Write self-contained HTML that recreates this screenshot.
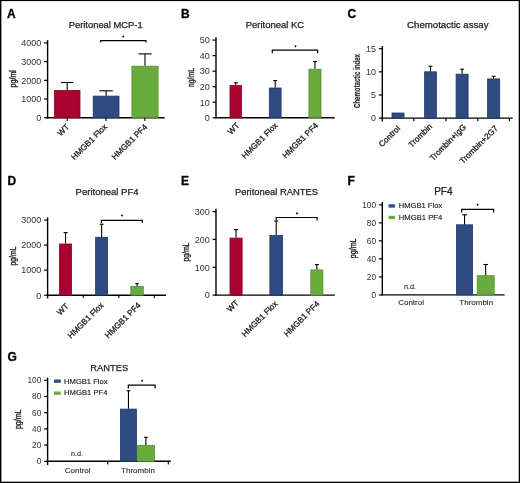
<!DOCTYPE html>
<html><head><meta charset="utf-8"><style>
html,body{margin:0;padding:0;background:#fff;}
body{width:520px;height:483px;overflow:hidden;}
svg{display:block;font-family:"Liberation Sans", sans-serif;will-change:transform;}
</style></head><body>
<svg width="520" height="483" viewBox="0 0 520 483">
<rect width="520" height="483" fill="#fff"/>
<rect x="0" y="0" width="520" height="1.1" fill="#000"/>
<rect x="0" y="0" width="1.4" height="483" fill="#000"/>
<rect x="518.7" y="0" width="1.3" height="483" fill="#000"/>
<rect x="0" y="481.7" width="520" height="1.3" fill="#000"/>
<text x="7" y="17.6" font-size="12" text-anchor="start" fill="#000" stroke="#000" stroke-width="0.3" font-weight="bold" >A</text>
<text x="105.7" y="27.9" font-size="9.5" text-anchor="middle" fill="#222" stroke="#222" stroke-width="0.25" textLength="74" lengthAdjust="spacingAndGlyphs" >Peritoneal MCP-1</text>
<text x="15.9" y="78.8" font-size="8.4" text-anchor="middle" fill="#222" stroke="#222" stroke-width="0.35" textLength="17.5" lengthAdjust="spacingAndGlyphs" transform="rotate(-90 15.9 78.8)" >pg/ml</text>
<line x1="47.6" y1="40.08" x2="47.6" y2="118.5" stroke="#000" stroke-width="1.4"/>
<line x1="44.1" y1="117.8" x2="47.6" y2="117.8" stroke="#000" stroke-width="1.2"/>
<text x="41.3" y="121.1" font-size="9.0" text-anchor="end" fill="#333" >0</text>
<line x1="44.1" y1="99.07" x2="47.6" y2="99.07" stroke="#000" stroke-width="1.2"/>
<text x="41.3" y="102.37" font-size="9.0" text-anchor="end" fill="#333" >1000</text>
<line x1="44.1" y1="80.34" x2="47.6" y2="80.34" stroke="#000" stroke-width="1.2"/>
<text x="41.3" y="83.64" font-size="9.0" text-anchor="end" fill="#333" >2000</text>
<line x1="44.1" y1="61.61" x2="47.6" y2="61.61" stroke="#000" stroke-width="1.2"/>
<text x="41.3" y="64.91" font-size="9.0" text-anchor="end" fill="#333" >3000</text>
<line x1="44.1" y1="42.88" x2="47.6" y2="42.88" stroke="#000" stroke-width="1.2"/>
<text x="41.3" y="46.18" font-size="9.0" text-anchor="end" fill="#333" >4000</text>
<line x1="46.9" y1="117.8" x2="164.6" y2="117.8" stroke="#000" stroke-width="1.4"/>
<rect x="54.40" y="90.40" width="25.60" height="27.40" fill="#aa0330" stroke="#8a0226" stroke-width="0.8"/>
<line x1="67.2" y1="90" x2="67.2" y2="82.5" stroke="#000" stroke-width="1.1"/>
<line x1="60.95" y1="82.5" x2="73.45" y2="82.5" stroke="#000" stroke-width="1.1"/>
<rect x="93.20" y="96.10" width="25.80" height="21.70" fill="#2e4c80" stroke="#203866" stroke-width="0.8"/>
<line x1="106.1" y1="95.7" x2="106.1" y2="90.8" stroke="#000" stroke-width="1.1"/>
<line x1="99.35" y1="90.8" x2="112.85" y2="90.8" stroke="#000" stroke-width="1.1"/>
<rect x="131.90" y="66.20" width="26.20" height="51.60" fill="#69ab3e" stroke="#568f33" stroke-width="0.8"/>
<line x1="145" y1="65.8" x2="145" y2="53.9" stroke="#000" stroke-width="1.1"/>
<line x1="138.4" y1="53.9" x2="151.6" y2="53.9" stroke="#000" stroke-width="1.1"/>
<line x1="67.2" y1="117.8" x2="67.2" y2="121" stroke="#000" stroke-width="1.1"/>
<line x1="106" y1="117.8" x2="106" y2="121" stroke="#000" stroke-width="1.1"/>
<line x1="144.9" y1="117.8" x2="144.9" y2="121" stroke="#000" stroke-width="1.1"/>
<path d="M100.6 42.4 L100.6 40.6 L146 40.6 L146 42.4" fill="none" stroke="#000" stroke-width="1.2"/>
<path d="M123.3 35.2 L124.5 36.5 L123.3 37.8 L122.1 36.5 Z" fill="#111"/>
<text x="69.8" y="127.4" font-size="8.2" text-anchor="end" fill="#222" stroke="#222" stroke-width="0.3" transform="rotate(-45 69.8 127.4)" >WT</text>
<text x="107.7" y="127.4" font-size="8.2" text-anchor="end" fill="#222" stroke="#222" stroke-width="0.3" transform="rotate(-45 107.7 127.4)" >HMGB1 Flox</text>
<text x="147.9" y="127.4" font-size="8.2" text-anchor="end" fill="#222" stroke="#222" stroke-width="0.3" transform="rotate(-45 147.9 127.4)" >HMGB1 PF4</text>
<text x="181" y="17.6" font-size="12" text-anchor="start" fill="#000" stroke="#000" stroke-width="0.3" font-weight="bold" >B</text>
<text x="274.9" y="27.9" font-size="9.5" text-anchor="middle" fill="#222" stroke="#222" stroke-width="0.25" textLength="58.5" lengthAdjust="spacingAndGlyphs" >Peritoneal KC</text>
<text x="194.2" y="77.5" font-size="8.4" text-anchor="middle" fill="#222" stroke="#222" stroke-width="0.35" textLength="19" lengthAdjust="spacingAndGlyphs" transform="rotate(-90 194.2 77.5)" >ng/mL</text>
<line x1="216" y1="37.3" x2="216" y2="118.5" stroke="#000" stroke-width="1.4"/>
<line x1="212.5" y1="117.8" x2="216" y2="117.8" stroke="#000" stroke-width="1.2"/>
<text x="209.7" y="121.1" font-size="9.0" text-anchor="end" fill="#333" >0</text>
<line x1="212.5" y1="102.26" x2="216" y2="102.26" stroke="#000" stroke-width="1.2"/>
<text x="209.7" y="105.56" font-size="9.0" text-anchor="end" fill="#333" >10</text>
<line x1="212.5" y1="86.72" x2="216" y2="86.72" stroke="#000" stroke-width="1.2"/>
<text x="209.7" y="90.02" font-size="9.0" text-anchor="end" fill="#333" >20</text>
<line x1="212.5" y1="71.18" x2="216" y2="71.18" stroke="#000" stroke-width="1.2"/>
<text x="209.7" y="74.48" font-size="9.0" text-anchor="end" fill="#333" >30</text>
<line x1="212.5" y1="55.64" x2="216" y2="55.64" stroke="#000" stroke-width="1.2"/>
<text x="209.7" y="58.94" font-size="9.0" text-anchor="end" fill="#333" >40</text>
<line x1="212.5" y1="40.1" x2="216" y2="40.1" stroke="#000" stroke-width="1.2"/>
<text x="209.7" y="43.4" font-size="9.0" text-anchor="end" fill="#333" >50</text>
<line x1="215.3" y1="117.8" x2="334.6" y2="117.8" stroke="#000" stroke-width="1.4"/>
<rect x="230.00" y="85.60" width="11.60" height="32.20" fill="#aa0330" stroke="#8a0226" stroke-width="0.8"/>
<line x1="235.8" y1="85.2" x2="235.8" y2="82.8" stroke="#000" stroke-width="1.1"/>
<line x1="233.8" y1="82.8" x2="237.8" y2="82.8" stroke="#000" stroke-width="1.1"/>
<rect x="269.30" y="88.00" width="11.80" height="29.80" fill="#2e4c80" stroke="#203866" stroke-width="0.8"/>
<line x1="275.2" y1="87.6" x2="275.2" y2="80.6" stroke="#000" stroke-width="1.1"/>
<line x1="273.2" y1="80.6" x2="277.2" y2="80.6" stroke="#000" stroke-width="1.1"/>
<rect x="308.90" y="69.20" width="12.10" height="48.60" fill="#69ab3e" stroke="#568f33" stroke-width="0.8"/>
<line x1="314.95" y1="68.8" x2="314.95" y2="61.5" stroke="#000" stroke-width="1.1"/>
<line x1="312.95" y1="61.5" x2="316.95" y2="61.5" stroke="#000" stroke-width="1.1"/>
<path d="M272.3 53.2 L272.3 50.2 L317.6 50.2 L317.6 53.2" fill="none" stroke="#000" stroke-width="1.2"/>
<path d="M295.5 45.00000000000001 L296.7 46.300000000000004 L295.5 47.6 L294.3 46.300000000000004 Z" fill="#111"/>
<text x="240" y="126" font-size="8.2" text-anchor="end" fill="#222" stroke="#222" stroke-width="0.3" transform="rotate(-45 240 126)" >WT</text>
<text x="278.2" y="126" font-size="8.2" text-anchor="end" fill="#222" stroke="#222" stroke-width="0.3" transform="rotate(-45 278.2 126)" >HMGB1 Flox</text>
<text x="318.7" y="126" font-size="8.2" text-anchor="end" fill="#222" stroke="#222" stroke-width="0.3" transform="rotate(-45 318.7 126)" >HMGB1 PF4</text>
<text x="347.5" y="17.6" font-size="12" text-anchor="start" fill="#000" stroke="#000" stroke-width="0.3" font-weight="bold" >C</text>
<text x="447.8" y="27.9" font-size="9.5" text-anchor="middle" fill="#222" stroke="#222" stroke-width="0.25" textLength="81.5" lengthAdjust="spacingAndGlyphs" >Chemotactic assay</text>
<text x="360.4" y="81" font-size="9" text-anchor="middle" fill="#222" stroke="#222" stroke-width="0.15" font-weight="bold" textLength="54" lengthAdjust="spacingAndGlyphs" transform="rotate(-90 360.4 81)" >Chemotactic index</text>
<line x1="382.3" y1="45.91" x2="382.3" y2="121.5" stroke="#000" stroke-width="1.4"/>
<line x1="378.8" y1="118.1" x2="382.3" y2="118.1" stroke="#000" stroke-width="1.2"/>
<text x="376" y="121.4" font-size="9.0" text-anchor="end" fill="#333" >0</text>
<line x1="378.8" y1="94.97" x2="382.3" y2="94.97" stroke="#000" stroke-width="1.2"/>
<text x="376" y="98.27" font-size="9.0" text-anchor="end" fill="#333" >5</text>
<line x1="378.8" y1="71.84" x2="382.3" y2="71.84" stroke="#000" stroke-width="1.2"/>
<text x="376" y="75.14" font-size="9.0" text-anchor="end" fill="#333" >10</text>
<line x1="378.8" y1="48.71" x2="382.3" y2="48.71" stroke="#000" stroke-width="1.2"/>
<text x="376" y="52.01" font-size="9.0" text-anchor="end" fill="#333" >15</text>
<line x1="381.6" y1="118.1" x2="512.8" y2="118.1" stroke="#000" stroke-width="1.4"/>
<rect x="392.00" y="113.00" width="12.00" height="5.10" fill="#2e4c80" stroke="#203866" stroke-width="0.8"/>
<rect x="424.60" y="71.80" width="11.80" height="46.30" fill="#2e4c80" stroke="#203866" stroke-width="0.8"/>
<line x1="430.5" y1="71.4" x2="430.5" y2="66.2" stroke="#000" stroke-width="1.1"/>
<line x1="428.5" y1="66.2" x2="432.5" y2="66.2" stroke="#000" stroke-width="1.1"/>
<rect x="456.10" y="74.20" width="12.00" height="43.90" fill="#2e4c80" stroke="#203866" stroke-width="0.8"/>
<line x1="462.1" y1="73.8" x2="462.1" y2="69.2" stroke="#000" stroke-width="1.1"/>
<line x1="460.1" y1="69.2" x2="464.1" y2="69.2" stroke="#000" stroke-width="1.1"/>
<rect x="487.60" y="78.90" width="12.10" height="39.20" fill="#2e4c80" stroke="#203866" stroke-width="0.8"/>
<line x1="493.65" y1="78.5" x2="493.65" y2="76.3" stroke="#000" stroke-width="1.1"/>
<line x1="491.65" y1="76.3" x2="495.65" y2="76.3" stroke="#000" stroke-width="1.1"/>
<line x1="413.8" y1="118.1" x2="413.8" y2="121.2" stroke="#000" stroke-width="1.2"/>
<line x1="445.9" y1="118.1" x2="445.9" y2="121.2" stroke="#000" stroke-width="1.2"/>
<line x1="477.8" y1="118.1" x2="477.8" y2="121.2" stroke="#000" stroke-width="1.2"/>
<line x1="509.4" y1="118.1" x2="509.4" y2="121.2" stroke="#000" stroke-width="1.2"/>
<text x="400.7" y="128.9" font-size="8.2" text-anchor="end" fill="#222" stroke="#222" stroke-width="0.3" transform="rotate(-45 400.7 128.9)" >Control</text>
<text x="432.7" y="126.9" font-size="8.2" text-anchor="end" fill="#222" stroke="#222" stroke-width="0.3" transform="rotate(-45 432.7 126.9)" >Trombin</text>
<text x="466.7" y="127.6" font-size="8.2" text-anchor="end" fill="#222" stroke="#222" stroke-width="0.3" transform="rotate(-45 466.7 127.6)" >Trombin+IgG</text>
<text x="498.4" y="128.9" font-size="8.2" text-anchor="end" fill="#222" stroke="#222" stroke-width="0.3" transform="rotate(-45 498.4 128.9)" >Trombin+2G7</text>
<text x="7.5" y="184.8" font-size="12" text-anchor="start" fill="#000" stroke="#000" stroke-width="0.3" font-weight="bold" >D</text>
<text x="107.1" y="195.2" font-size="9.5" text-anchor="middle" fill="#222" stroke="#222" stroke-width="0.25" textLength="63" lengthAdjust="spacingAndGlyphs" >Peritoneal PF4</text>
<text x="15.9" y="256" font-size="8.4" text-anchor="middle" fill="#222" stroke="#222" stroke-width="0.35" textLength="18.9" lengthAdjust="spacingAndGlyphs" transform="rotate(-90 15.9 256)" >pg/mL</text>
<line x1="47.6" y1="217.31" x2="47.6" y2="298.4" stroke="#000" stroke-width="1.4"/>
<line x1="44.1" y1="295.2" x2="47.6" y2="295.2" stroke="#000" stroke-width="1.2"/>
<text x="41.3" y="298.5" font-size="9.0" text-anchor="end" fill="#333" >0</text>
<line x1="44.1" y1="270.17" x2="47.6" y2="270.17" stroke="#000" stroke-width="1.2"/>
<text x="41.3" y="273.47" font-size="9.0" text-anchor="end" fill="#333" >1000</text>
<line x1="44.1" y1="245.14" x2="47.6" y2="245.14" stroke="#000" stroke-width="1.2"/>
<text x="41.3" y="248.44" font-size="9.0" text-anchor="end" fill="#333" >2000</text>
<line x1="44.1" y1="220.11" x2="47.6" y2="220.11" stroke="#000" stroke-width="1.2"/>
<text x="41.3" y="223.41" font-size="9.0" text-anchor="end" fill="#333" >3000</text>
<line x1="46.9" y1="295.2" x2="165.9" y2="295.2" stroke="#000" stroke-width="1.4"/>
<rect x="59.50" y="244.00" width="12.10" height="51.20" fill="#aa0330" stroke="#8a0226" stroke-width="0.8"/>
<line x1="65.55" y1="243.6" x2="65.55" y2="232.6" stroke="#000" stroke-width="1.1"/>
<line x1="63.55" y1="232.6" x2="67.55" y2="232.6" stroke="#000" stroke-width="1.1"/>
<rect x="95.60" y="237.30" width="12.00" height="57.90" fill="#2e4c80" stroke="#203866" stroke-width="0.8"/>
<line x1="101.6" y1="236.9" x2="101.6" y2="224.2" stroke="#000" stroke-width="1.1"/>
<line x1="99.6" y1="224.2" x2="103.6" y2="224.2" stroke="#000" stroke-width="1.1"/>
<rect x="130.80" y="286.50" width="12.50" height="8.70" fill="#69ab3e" stroke="#568f33" stroke-width="0.8"/>
<line x1="137.05" y1="286.1" x2="137.05" y2="283.6" stroke="#000" stroke-width="1.1"/>
<line x1="135.3" y1="283.6" x2="138.8" y2="283.6" stroke="#000" stroke-width="1.1"/>
<line x1="83.3" y1="295.2" x2="83.3" y2="297.9" stroke="#000" stroke-width="1.1"/>
<line x1="118.9" y1="295.2" x2="118.9" y2="297.9" stroke="#000" stroke-width="1.1"/>
<line x1="154.4" y1="295.2" x2="154.4" y2="297.9" stroke="#000" stroke-width="1.1"/>
<path d="M101.4 223.10000000000002 L101.4 220.3 L142.3 220.3 L142.3 223.10000000000002" fill="none" stroke="#000" stroke-width="1.2"/>
<path d="M122 214.2 L123.2 215.5 L122 216.8 L120.8 215.5 Z" fill="#111"/>
<text x="69.2" y="306.8" font-size="8.2" text-anchor="end" fill="#222" stroke="#222" stroke-width="0.3" transform="rotate(-45 69.2 306.8)" >WT</text>
<text x="104.2" y="305.8" font-size="8.2" text-anchor="end" fill="#222" stroke="#222" stroke-width="0.3" transform="rotate(-45 104.2 305.8)" >HMGB1 Flox</text>
<text x="141.2" y="305.8" font-size="8.2" text-anchor="end" fill="#222" stroke="#222" stroke-width="0.3" transform="rotate(-45 141.2 305.8)" >HMGB1 PF4</text>
<text x="181" y="184.8" font-size="12" text-anchor="start" fill="#000" stroke="#000" stroke-width="0.3" font-weight="bold" >E</text>
<text x="276.5" y="195.2" font-size="9.5" text-anchor="middle" fill="#222" stroke="#222" stroke-width="0.25" textLength="83.2" lengthAdjust="spacingAndGlyphs" >Peritoneal RANTES</text>
<text x="189.4" y="252.1" font-size="8.4" text-anchor="middle" fill="#222" stroke="#222" stroke-width="0.35" textLength="19" lengthAdjust="spacingAndGlyphs" transform="rotate(-90 189.4 252.1)" >pg/mL</text>
<line x1="216" y1="208.81" x2="216" y2="295.8" stroke="#000" stroke-width="1.4"/>
<line x1="212.5" y1="295.1" x2="216" y2="295.1" stroke="#000" stroke-width="1.2"/>
<text x="209.7" y="298.4" font-size="9.0" text-anchor="end" fill="#333" >0</text>
<line x1="212.5" y1="267.27" x2="216" y2="267.27" stroke="#000" stroke-width="1.2"/>
<text x="209.7" y="270.57" font-size="9.0" text-anchor="end" fill="#333" >100</text>
<line x1="212.5" y1="239.44" x2="216" y2="239.44" stroke="#000" stroke-width="1.2"/>
<text x="209.7" y="242.74" font-size="9.0" text-anchor="end" fill="#333" >200</text>
<line x1="212.5" y1="211.61" x2="216" y2="211.61" stroke="#000" stroke-width="1.2"/>
<text x="209.7" y="214.91" font-size="9.0" text-anchor="end" fill="#333" >300</text>
<line x1="215.3" y1="295.1" x2="334.8" y2="295.1" stroke="#000" stroke-width="1.4"/>
<rect x="230.00" y="238.10" width="12.10" height="57.00" fill="#aa0330" stroke="#8a0226" stroke-width="0.8"/>
<line x1="236.05" y1="237.7" x2="236.05" y2="229.6" stroke="#000" stroke-width="1.1"/>
<line x1="234.05" y1="229.6" x2="238.05" y2="229.6" stroke="#000" stroke-width="1.1"/>
<rect x="269.90" y="235.40" width="12.60" height="59.70" fill="#2e4c80" stroke="#203866" stroke-width="0.8"/>
<line x1="276.2" y1="235" x2="276.2" y2="221" stroke="#000" stroke-width="1.1"/>
<line x1="274.2" y1="221" x2="278.2" y2="221" stroke="#000" stroke-width="1.1"/>
<rect x="310.80" y="269.90" width="12.10" height="25.20" fill="#69ab3e" stroke="#568f33" stroke-width="0.8"/>
<line x1="316.85" y1="269.5" x2="316.85" y2="264.6" stroke="#000" stroke-width="1.1"/>
<line x1="314.85" y1="264.6" x2="318.85" y2="264.6" stroke="#000" stroke-width="1.1"/>
<path d="M276.2 220.2 L276.2 217.5 L317.1 217.5 L317.1 220.2" fill="none" stroke="#000" stroke-width="1.2"/>
<path d="M297 212.09999999999997 L298.2 213.39999999999998 L297 214.7 L295.8 213.39999999999998 Z" fill="#111"/>
<text x="239.2" y="303.4" font-size="8.2" text-anchor="end" fill="#222" stroke="#222" stroke-width="0.3" transform="rotate(-45 239.2 303.4)" >WT</text>
<text x="278.2" y="304.4" font-size="8.2" text-anchor="end" fill="#222" stroke="#222" stroke-width="0.3" transform="rotate(-45 278.2 304.4)" >HMGB1 Flox</text>
<text x="320" y="304.4" font-size="8.2" text-anchor="end" fill="#222" stroke="#222" stroke-width="0.3" transform="rotate(-45 320 304.4)" >HMGB1 PF4</text>
<text x="347.5" y="184.8" font-size="12" text-anchor="start" fill="#000" stroke="#000" stroke-width="0.3" font-weight="bold" >F</text>
<text x="443.3" y="195.4" font-size="10" text-anchor="middle" fill="#222" stroke="#222" stroke-width="0.25" >PF4</text>
<text x="355.9" y="248.3" font-size="8.4" text-anchor="middle" fill="#222" stroke="#222" stroke-width="0.35" textLength="19.7" lengthAdjust="spacingAndGlyphs" transform="rotate(-90 355.9 248.3)" >pg/mL</text>
<line x1="382.3" y1="202.1" x2="382.3" y2="295.6" stroke="#000" stroke-width="1.4"/>
<line x1="378.8" y1="294.9" x2="382.3" y2="294.9" stroke="#000" stroke-width="1.2"/>
<text x="376" y="297.8" font-size="8.3" text-anchor="end" fill="#333" >0</text>
<line x1="378.8" y1="276.9" x2="382.3" y2="276.9" stroke="#000" stroke-width="1.2"/>
<text x="376" y="279.8" font-size="8.3" text-anchor="end" fill="#333" >20</text>
<line x1="378.8" y1="258.9" x2="382.3" y2="258.9" stroke="#000" stroke-width="1.2"/>
<text x="376" y="261.8" font-size="8.3" text-anchor="end" fill="#333" >40</text>
<line x1="378.8" y1="240.9" x2="382.3" y2="240.9" stroke="#000" stroke-width="1.2"/>
<text x="376" y="243.8" font-size="8.3" text-anchor="end" fill="#333" >60</text>
<line x1="378.8" y1="222.9" x2="382.3" y2="222.9" stroke="#000" stroke-width="1.2"/>
<text x="376" y="225.8" font-size="8.3" text-anchor="end" fill="#333" >80</text>
<line x1="378.8" y1="204.9" x2="382.3" y2="204.9" stroke="#000" stroke-width="1.2"/>
<text x="376" y="207.8" font-size="8.3" text-anchor="end" fill="#333" >100</text>
<line x1="381.6" y1="294.9" x2="504.6" y2="294.9" stroke="#000" stroke-width="1.4"/>
<rect x="388.6" y="204.3" width="6.5" height="3.3" fill="#2e4c80"/>
<rect x="388.6" y="215.8" width="6.5" height="3.3" fill="#69ab3e"/>
<text x="398.8" y="207.9" font-size="7.3" text-anchor="start" fill="#222" stroke="#222" stroke-width="0.15" textLength="43.4" lengthAdjust="spacingAndGlyphs" >HMGB1 Flox</text>
<text x="398.8" y="219.6" font-size="7.3" text-anchor="start" fill="#222" stroke="#222" stroke-width="0.15" textLength="43.4" lengthAdjust="spacingAndGlyphs" >HMGB1 PF4</text>
<rect x="456.50" y="224.80" width="16.10" height="70.10" fill="#2e4c80" stroke="#203866" stroke-width="0.8"/>
<line x1="464.55" y1="224.4" x2="464.55" y2="214.8" stroke="#000" stroke-width="1.1"/>
<line x1="462.2" y1="214.8" x2="466.9" y2="214.8" stroke="#000" stroke-width="1.1"/>
<rect x="477.20" y="275.70" width="17.00" height="19.20" fill="#69ab3e" stroke="#568f33" stroke-width="0.8"/>
<line x1="485.7" y1="275.3" x2="485.7" y2="264.5" stroke="#000" stroke-width="1.1"/>
<line x1="483.4" y1="264.5" x2="488" y2="264.5" stroke="#000" stroke-width="1.1"/>
<path d="M461.7 212.60000000000002 L461.7 209.3 L493.6 209.3 L493.6 212.60000000000002" fill="none" stroke="#000" stroke-width="1.2"/>
<path d="M477.6 203.49999999999997 L478.8 204.79999999999998 L477.6 206.1 L476.40000000000003 204.79999999999998 Z" fill="#111"/>
<text x="410.1" y="289.3" font-size="7.2" text-anchor="middle" fill="#222" stroke="#222" stroke-width="0.1" >n.d.</text>
<text x="411.1" y="304.8" font-size="8.0" text-anchor="middle" fill="#222" stroke="#222" stroke-width="0.1" >Control</text>
<text x="476.2" y="304.8" font-size="8.0" text-anchor="middle" fill="#222" stroke="#222" stroke-width="0.1" >Thrombin</text>
<text x="7.5" y="360.9" font-size="12" text-anchor="start" fill="#000" stroke="#000" stroke-width="0.3" font-weight="bold" >G</text>
<text x="109.2" y="371" font-size="9.9" text-anchor="middle" fill="#222" stroke="#222" stroke-width="0.25" textLength="38" lengthAdjust="spacingAndGlyphs" >RANTES</text>
<text x="20.9" y="419.3" font-size="8.4" text-anchor="middle" fill="#222" stroke="#222" stroke-width="0.35" textLength="19.6" lengthAdjust="spacingAndGlyphs" transform="rotate(-90 20.9 419.3)" >pg/mL</text>
<line x1="47.6" y1="377.5" x2="47.6" y2="465" stroke="#000" stroke-width="1.4"/>
<line x1="44.1" y1="461.3" x2="47.6" y2="461.3" stroke="#000" stroke-width="1.2"/>
<text x="41.3" y="464.2" font-size="8.3" text-anchor="end" fill="#333" >0</text>
<line x1="44.1" y1="445.1" x2="47.6" y2="445.1" stroke="#000" stroke-width="1.2"/>
<text x="41.3" y="448" font-size="8.3" text-anchor="end" fill="#333" >20</text>
<line x1="44.1" y1="428.9" x2="47.6" y2="428.9" stroke="#000" stroke-width="1.2"/>
<text x="41.3" y="431.8" font-size="8.3" text-anchor="end" fill="#333" >40</text>
<line x1="44.1" y1="412.7" x2="47.6" y2="412.7" stroke="#000" stroke-width="1.2"/>
<text x="41.3" y="415.6" font-size="8.3" text-anchor="end" fill="#333" >60</text>
<line x1="44.1" y1="396.5" x2="47.6" y2="396.5" stroke="#000" stroke-width="1.2"/>
<text x="41.3" y="399.4" font-size="8.3" text-anchor="end" fill="#333" >80</text>
<line x1="44.1" y1="380.3" x2="47.6" y2="380.3" stroke="#000" stroke-width="1.2"/>
<text x="41.3" y="383.2" font-size="8.3" text-anchor="end" fill="#333" >100</text>
<line x1="46.9" y1="461.3" x2="170.8" y2="461.3" stroke="#000" stroke-width="1.4"/>
<rect x="54" y="379.5" width="6.8" height="3.3" fill="#2e4c80"/>
<rect x="54" y="391.5" width="6.8" height="3.3" fill="#69ab3e"/>
<text x="64.1" y="383.5" font-size="7.3" text-anchor="start" fill="#222" stroke="#222" stroke-width="0.15" textLength="43.4" lengthAdjust="spacingAndGlyphs" >HMGB1 Flox</text>
<text x="64.1" y="395.3" font-size="7.3" text-anchor="start" fill="#222" stroke="#222" stroke-width="0.15" textLength="43.4" lengthAdjust="spacingAndGlyphs" >HMGB1 PF4</text>
<rect x="120.40" y="409.10" width="16.10" height="52.20" fill="#2e4c80" stroke="#203866" stroke-width="0.8"/>
<line x1="128.45" y1="408.7" x2="128.45" y2="390.8" stroke="#000" stroke-width="1.1"/>
<line x1="126.6" y1="390.8" x2="130.3" y2="390.8" stroke="#000" stroke-width="1.1"/>
<rect x="137.30" y="445.30" width="17.20" height="16.00" fill="#69ab3e" stroke="#568f33" stroke-width="0.8"/>
<line x1="145.9" y1="444.9" x2="145.9" y2="437.3" stroke="#000" stroke-width="1.1"/>
<line x1="144" y1="437.3" x2="147.8" y2="437.3" stroke="#000" stroke-width="1.1"/>
<line x1="107.7" y1="461.3" x2="107.7" y2="464.5" stroke="#000" stroke-width="1.1"/>
<line x1="168.3" y1="461.3" x2="168.3" y2="464.5" stroke="#000" stroke-width="1.1"/>
<path d="M128.3 388.6 L128.3 385.1 L155.1 385.1 L155.1 388.6" fill="none" stroke="#000" stroke-width="1.2"/>
<path d="M142.1 379.5 L143.29999999999998 380.8 L142.1 382.1 L140.9 380.8 Z" fill="#111"/>
<text x="77" y="456" font-size="7.2" text-anchor="middle" fill="#222" stroke="#222" stroke-width="0.1" >n.d.</text>
<text x="77.7" y="473.1" font-size="8.0" text-anchor="middle" fill="#222" stroke="#222" stroke-width="0.1" >Control</text>
<text x="138" y="473.1" font-size="8.0" text-anchor="middle" fill="#222" stroke="#222" stroke-width="0.1" >Thrombin</text>
</svg>
</body></html>
